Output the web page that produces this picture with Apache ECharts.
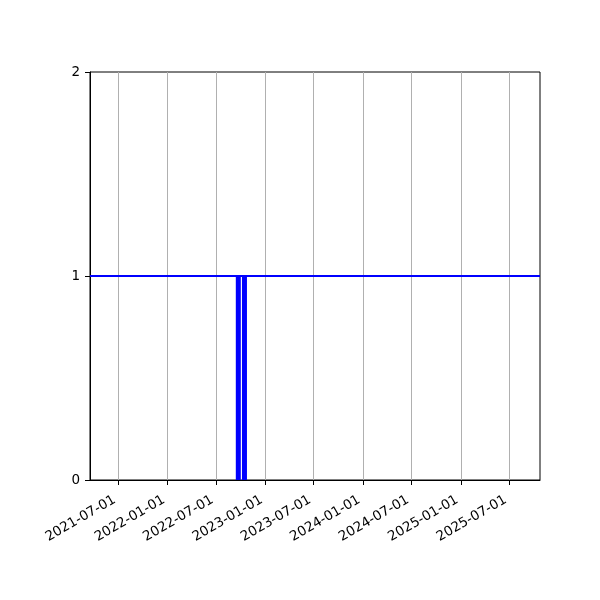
<!DOCTYPE html>
<html>
<head>
<meta charset="utf-8">
<script src="https://cdn.jsdelivr.net/npm/echarts@6/dist/echarts.min.js"></script>
<style>html,body{margin:0;padding:0;background:#fff}#c{width:600px;height:600px}</style>
</head>
<body>
<div id="c"></div>
<script>
var xRange = ['2021-03-18', '2025-10-24'];
var xTicks = ['2021-07-01','2022-01-01','2022-07-01','2023-01-01','2023-07-01','2024-01-01','2024-07-01','2025-01-01','2025-07-01'];
var yTicks = [0, 1, 2];
var lineDates = ['2021-03-18', '2025-10-24'];
var lineValues = [1, 1];
var barDates = ['2022-09-23', '2022-10-16'];
var barValues = [1, 1];

function ms(d) { return Date.parse(d + 'T00:00:00Z'); }
function fmt(v) {
  var d = new Date(v);
  function p(n) { return (n < 10 ? '0' : '') + n; }
  return d.getUTCFullYear() + '-' + p(d.getUTCMonth() + 1) + '-' + p(d.getUTCDate());
}
var tickMs = xTicks.map(ms);
var font = 'DejaVu Sans';
var chart = echarts.init(document.getElementById('c'), null, {renderer: 'canvas'});
chart.setOption({
  animation: false,
  backgroundColor: '#fff',
  grid: {left: 90, right: 60, top: 72, bottom: 120, show: true, borderColor: '#000', borderWidth: 1, backgroundColor: 'transparent'},
  xAxis: {
    type: 'value',
    min: ms(xRange[0]), max: ms(xRange[1]),
    axisLine: {show: true, lineStyle: {color: '#000', width: 1}},
    axisTick: {show: true, customValues: tickMs, length: 5, inside: false, lineStyle: {color: '#000', width: 1}},
    axisLabel: {customValues: tickMs, rotate: 30, color: '#000', fontFamily: font, fontSize: 13.5, margin: 25,
      align: 'right', verticalAlign: 'bottom',
      formatter: function (v) { return fmt(v); }},
    splitLine: {show: true, lineStyle: {color: '#b0b0b0', width: 1}}
  },
  yAxis: {
    type: 'value', min: yTicks[0], max: yTicks[yTicks.length - 1], interval: 1,
    axisLine: {show: true, lineStyle: {color: '#000', width: 1}},
    axisTick: {show: true, length: 5, lineStyle: {color: '#000', width: 1}},
    axisLabel: {color: '#000', fontFamily: font, fontSize: 13.5, margin: 10},
    splitLine: {show: false}
  },
  series: [
    {type: 'bar', data: barDates.map(function (d, i) { return [ms(d), barValues[i]]; }), barWidth: 5, barGap: '-100%',
      itemStyle: {color: '#0000ff'}, z: 2},
    {type: 'line', data: lineDates.map(function (d, i) { return [ms(d), lineValues[i]]; }), symbol: 'none',
      lineStyle: {color: '#0000ff', width: 2}, z: 3}
  ]
});
</script>
</body>
</html>
